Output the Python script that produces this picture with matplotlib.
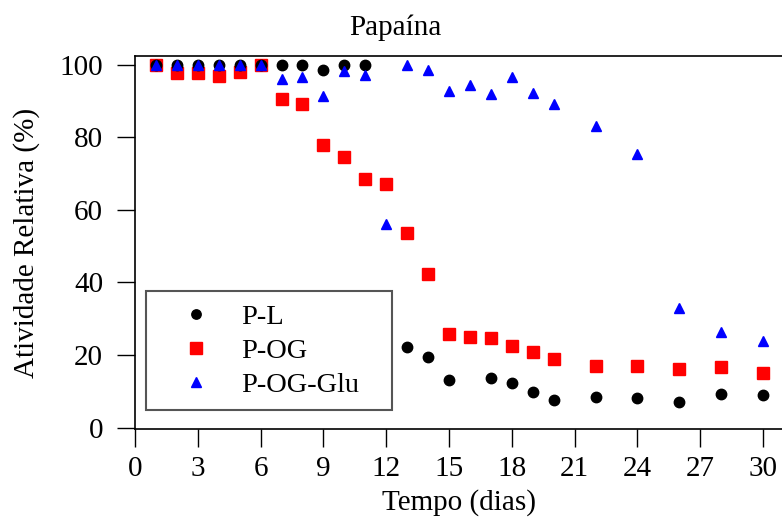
import matplotlib
matplotlib.use('Agg')
import matplotlib.pyplot as plt

plt.rcParams['font.family'] = ['Liberation Serif', 'DejaVu Serif']

# P-L
dias_pl = [1, 2, 3, 4, 5, 6, 7, 8, 9, 10, 11, 13, 14, 15, 17, 18, 19, 20, 22, 24, 26, 28, 30]
ativ_pl = [100, 100, 100, 100, 100, 100, 100, 100, 98.6, 100, 100,
           22.2, 19.4, 13.1, 13.6, 12.2, 9.7, 7.6, 8.5, 8.1, 7.1, 9.2, 9.0]

# P-OG
dias_og = [1, 2, 3, 4, 5, 6, 7, 8, 9, 10, 11, 12, 13, 14, 15, 16, 17, 18, 19, 20, 22, 24, 26, 28, 30]
ativ_og = [100, 97.7, 97.7, 97.0, 98.0, 100, 90.6, 89.3, 77.9, 74.7, 68.5, 67.1, 53.7,
           42.3, 25.9, 25.0, 24.8, 22.6, 20.9, 18.8, 17.0, 17.0, 16.2, 16.7, 15.0]

# P-OG-Glu
dias_glu = [1, 2, 3, 4, 5, 6, 7, 8, 9, 10, 11, 12, 13, 14, 15, 16, 17, 18, 19, 20, 22, 24, 26, 28, 30]
ativ_glu = [100, 100, 100, 100, 100, 100, 96.0, 96.6, 91.4, 98.4, 97.2, 56.0, 100,
            98.6, 92.8, 94.6, 92.0, 96.6, 92.4, 89.1, 83.2, 75.5, 32.9, 26.3, 23.9]

fig = plt.figure(figsize=(7.82, 5.17), dpi=100)
ax = fig.add_axes([135/782, 0.1696, 649/782, 0.7223])

ax.plot(dias_pl, ativ_pl, 'o', color='black', markersize=7.5, label='P-L', zorder=3)
ax.plot(dias_og, ativ_og, 's', color='red', markersize=9, label='P-OG', zorder=2)
ax.plot(dias_glu, ativ_glu, '^', color='blue', markersize=7.5, label='P-OG-Glu', zorder=4)

ax.set_xlim(0, 31)
ax.set_ylim(-0.5, 102.5)
ax.set_xticks(range(0, 31, 3))
ax.set_yticks(range(0, 101, 20))
ax.tick_params(direction='out', length=13, width=1.0, labelsize=21)
ax.tick_params(axis='y', pad=10)
ax.tick_params(axis='x', pad=6)
ax.spines['right'].set_visible(False)
for s in ['left', 'bottom', 'top']:
    ax.spines[s].set_linewidth(1.2)

ax.set_xlabel('Tempo (dias)', fontsize=21, labelpad=5)
ax.set_ylabel('Atividade Relativa (%)', fontsize=21, labelpad=14)
fig.text(395/782, 1 - 28/517, 'Papaína', fontsize=21, ha='center', va='center')

# caixa da legenda com largura fixa (mode='expand')
leg = ax.legend(loc='upper left', bbox_to_anchor=(146/782, 1 - 406/517, 246/782, 115/517),
                bbox_transform=fig.transFigure, borderaxespad=0, mode='expand',
                fontsize=20.5, fancybox=False, framealpha=1, edgecolor='#555555',
                borderpad=0.45, handlelength=2.6, handletextpad=0.3,
                labelspacing=0.28, markerscale=0.9)
leg.get_frame().set_linewidth(1.5)

fig.savefig('out.png', dpi=100)
